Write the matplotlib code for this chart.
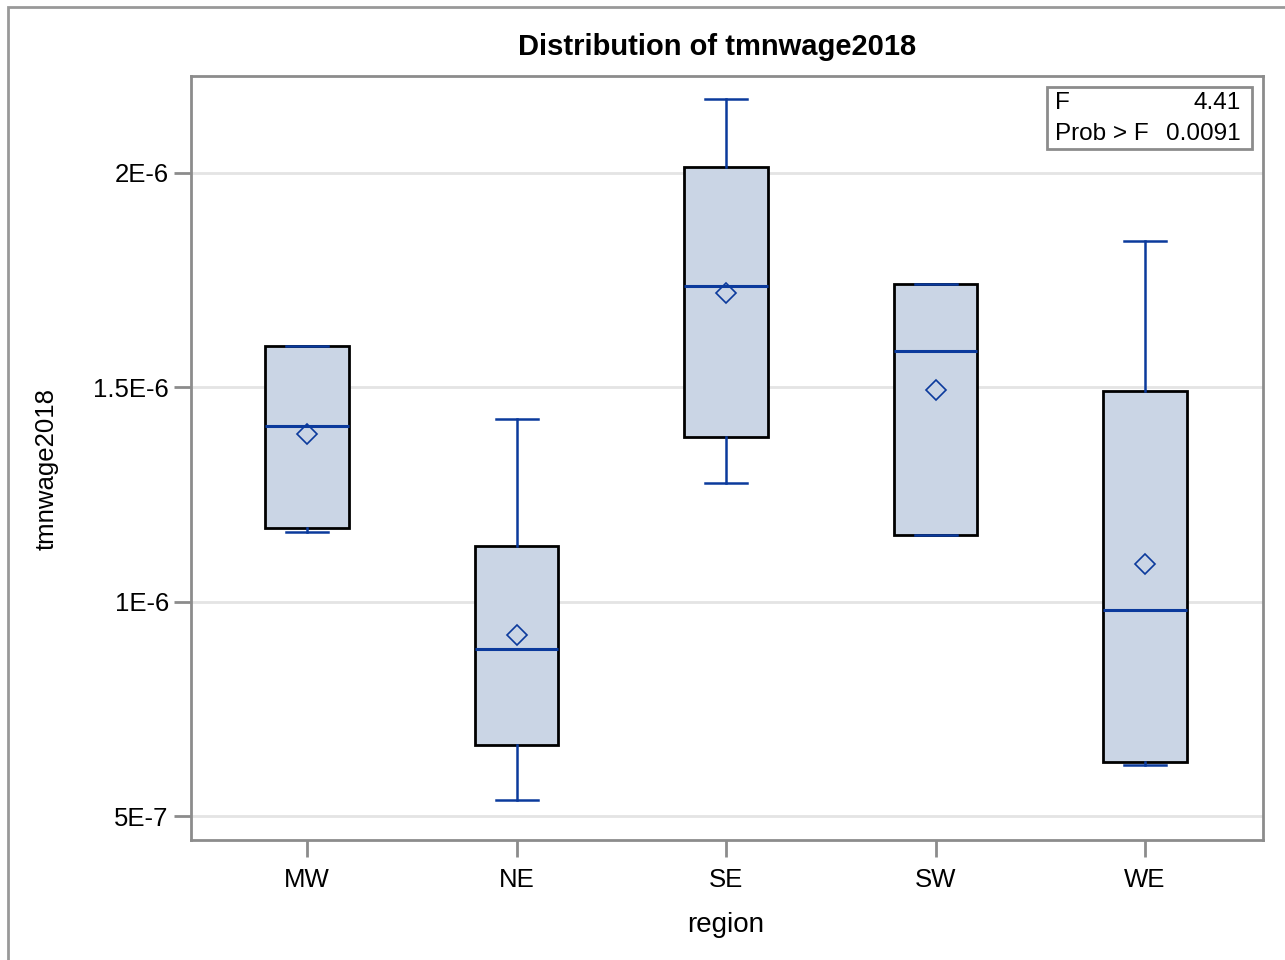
import numpy as np
import matplotlib.pyplot as plt
from matplotlib.patches import Rectangle
from matplotlib.ticker import FixedLocator

plt.rcParams['font.family'] = ['Liberation Sans', 'DejaVu Sans']

# values (units of 1E-6)
regions = ["MW", "NE", "SE", "SW", "WE"]
whislo = [1.163, 0.538, 1.277, 1.156, 0.620]
q1 = [1.172, 0.667, 1.385, 1.156, 0.627]
medians = [1.410, 0.890, 1.737, 1.585, 0.981]
means = [1.392, 0.923, 1.720, 1.494, 1.089]
q3 = [1.597, 1.131, 2.014, 1.741, 1.492]
whishi = [1.597, 1.427, 2.173, 1.741, 1.842]
y_ticks = [0.5, 1.0, 1.5, 2.0]
y_ticklabels = ["5E-7", "1E-6", "1.5E-6", "2E-6"]
f_value = "4.41"
p_value = "0.0091"

blue = "#0b3a9c"
face = "#cad5e5"
gray = "#8c8c8c"

stats = []
for i in range(len(regions)):
    stats.append(dict(label=regions[i], whislo=whislo[i] * 1e-6, q1=q1[i] * 1e-6,
                      med=medians[i] * 1e-6, q3=q3[i] * 1e-6, whishi=whishi[i] * 1e-6,
                      mean=means[i] * 1e-6, fliers=[]))

fig = plt.figure(figsize=(12.85, 9.6), dpi=100)
W, H = 1285, 960
ax = fig.add_axes([191 / W, (H - 840) / H, (1263 - 191) / W, (840 - 76) / H])

# outer frame of the graph
fig.patches.append(Rectangle((8 / W, -0.05), 1.2, (H - 7) / H + 0.05, transform=fig.transFigure,
                             fill=False, edgecolor="#999999", linewidth=2))

ax.bxp(stats, positions=np.arange(len(regions)), widths=0.4, patch_artist=True,
       showmeans=True, capwidths=0.2,
       boxprops=dict(facecolor=face, edgecolor="black", linewidth=2),
       medianprops=dict(color=blue, linewidth=2.2),
       whiskerprops=dict(color=blue, linewidth=1.8),
       capprops=dict(color=blue, linewidth=1.8),
       meanprops=dict(marker="D", markerfacecolor="none", markeredgecolor=blue,
                      markersize=10, markeredgewidth=1.2),
       zorder=3)

ax.set_xlim(-0.554, 4.563)
ax.set_ylim(0.4452e-6, 2.226e-6)
ax.yaxis.set_major_locator(FixedLocator([v * 1e-6 for v in y_ticks]))
ax.set_yticklabels(y_ticklabels)
ax.set_xticks(np.arange(len(regions)))
ax.set_xticklabels(regions)
ax.grid(axis="y", color="#e4e4e4", linewidth=2, zorder=0)
ax.set_axisbelow(True)
for s in ax.spines.values():
    s.set_color(gray)
    s.set_linewidth(2)
ax.tick_params(direction="out", length=12, width=2, color=gray, labelsize=18.5)
ax.tick_params(axis="y", pad=4)
ax.tick_params(axis="x", pad=8)

fig.text(717 / W, 1 - 47 / H, "Distribution of tmnwage2018", ha="center", va="center",
         fontsize=21, fontweight="bold")
fig.text(47 / W, 1 - 469 / H, "tmnwage2018", rotation=90, ha="center", va="center", fontsize=18.5)
fig.text(726 / W, 1 - 925 / H, "region", ha="center", va="center", fontsize=20)

# statistics box in the upper right corner
fig.patches.append(Rectangle((1047 / W, 1 - 149 / H), (1252 - 1047) / W, (149 - 87) / H,
                             transform=fig.transFigure, fill=False, edgecolor=gray, linewidth=2))
fig.text(1055 / W, 1 - 103 / H, "F", ha="left", va="center", fontsize=17.5)
fig.text(1241 / W, 1 - 103 / H, f_value, ha="right", va="center", fontsize=17.5)
fig.text(1055 / W, 1 - 134 / H, "Prob > F", ha="left", va="center", fontsize=17.5)
fig.text(1241 / W, 1 - 134 / H, p_value, ha="right", va="center", fontsize=17.5)

fig.savefig("out.png", dpi=100)
